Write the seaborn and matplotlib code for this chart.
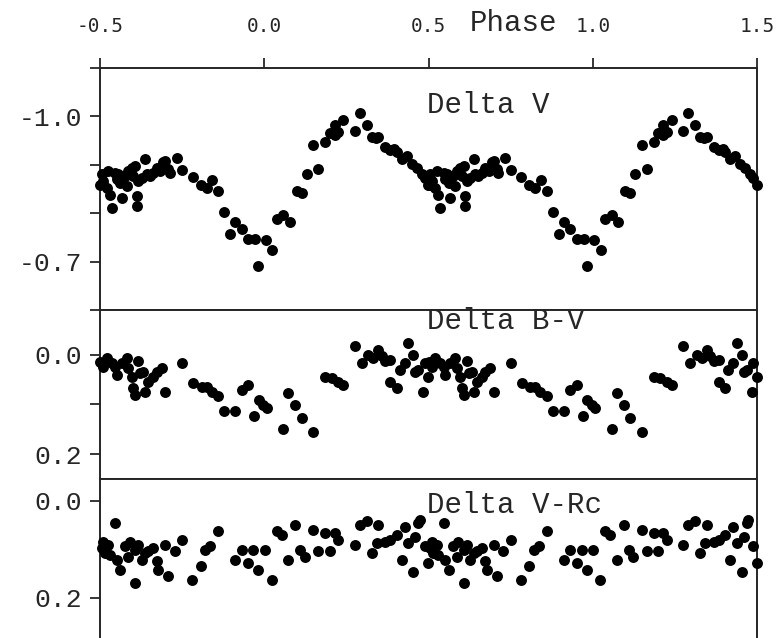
import numpy as np
import pandas as pd
import seaborn as sns
import matplotlib.pyplot as plt

# Folded light curve, one cycle of phase (-0.5 .. 0.5); plotted twice (phase and phase + 1)
phase_v = [-0.495, -0.490, -0.500, -0.480, -0.470, -0.464, -0.475, -0.454, -0.449, -0.444,
           -0.439, -0.434, -0.424, -0.419, -0.414, -0.404, -0.399, -0.393, -0.388, -0.388,
           -0.383, -0.373, -0.363, -0.358, -0.348, -0.338, -0.327, -0.317, -0.307, -0.302,
           -0.292, -0.287, -0.267, -0.249, -0.218, -0.193, -0.175, -0.158, -0.140, -0.122,
           -0.104, -0.089, -0.069, -0.048, -0.028, -0.018, 0.004, 0.025, 0.038, 0.058,
           0.078, 0.099, 0.114, 0.129, 0.165, 0.149, 0.185, 0.200, 0.215, 0.215,
           0.226, 0.241, 0.276, 0.291, 0.312, 0.327, 0.347, 0.340, 0.368, 0.383,
           0.395, 0.403, 0.418, 0.434, 0.449, 0.464, 0.479, 0.489, 0.499]
delta_v = [-0.880, -0.866, -0.859, -0.852, -0.838, -0.810, -0.887, -0.884, -0.870, -0.880,
           -0.863, -0.831, -0.877, -0.856, -0.887, -0.894, -0.877, -0.898, -0.835, -0.814,
           -0.866, -0.873, -0.912, -0.880, -0.877, -0.884, -0.894, -0.887, -0.905, -0.908,
           -0.891, -0.884, -0.915, -0.889, -0.875, -0.859, -0.852, -0.868, -0.845, -0.803,
           -0.758, -0.782, -0.768, -0.747, -0.747, -0.691, -0.744, -0.723, -0.789, -0.796,
           -0.782, -0.845, -0.842, -0.880, -0.891, -0.941, -0.947, -0.965, -0.982, -0.961,
           -0.968, -0.993, -0.969, -1.007, -0.982, -0.958, -0.958, -0.955, -0.937, -0.930,
           -0.933, -0.926, -0.912, -0.919, -0.901, -0.894, -0.880, -0.873, -0.859]

phase_bv = [-0.500, -0.490, -0.480, -0.464, -0.449, -0.454, -0.434, -0.419, -0.414, -0.404,
            -0.399, -0.393, -0.383, -0.378, -0.368, -0.363, -0.353, -0.338, -0.327, -0.312,
            -0.302, -0.249, -0.216, -0.191, -0.175, -0.160, -0.140, -0.122, -0.089, -0.069,
            -0.048, -0.030, -0.016, -0.003, 0.007, 0.058, 0.073, 0.094, 0.114, 0.149,
            0.185, 0.205, 0.226, 0.241, 0.276, 0.297, 0.317, 0.332, 0.347, 0.357,
            0.368, 0.383, 0.383, 0.403, 0.413, 0.428, 0.439, 0.454, 0.459, 0.469,
            0.484, 0.489, 0.499]
delta_bv = [0.014, 0.024, 0.007, 0.017, 0.040, 0.024, 0.017, 0.007, 0.027, 0.044,
            0.067, 0.081, 0.013, 0.037, 0.034, 0.074, 0.054, 0.044, 0.034, 0.027,
            0.074, 0.017, 0.057, 0.064, 0.064, 0.074, 0.084, 0.113, 0.113, 0.071,
            0.061, 0.123, 0.091, 0.101, 0.108, 0.150, 0.077, 0.101, 0.128, 0.155,
            0.044, 0.047, 0.054, 0.061, -0.017, 0.017, 0.000, 0.007, -0.010, 0.003,
            0.013, 0.010, 0.054, 0.067, 0.030, 0.017, -0.024, 0.000, 0.034, 0.030,
            0.074, 0.017, 0.044]

phase_vr = [-0.490, -0.495, -0.485, -0.475, -0.454, -0.470, -0.449, -0.439, -0.424, -0.414,
            -0.409, -0.393, -0.393, -0.383, -0.373, -0.363, -0.353, -0.338, -0.327, -0.322,
            -0.302, -0.292, -0.272, -0.249, -0.219, -0.193, -0.180, -0.165, -0.140, -0.089,
            -0.069, -0.048, -0.033, -0.018, 0.002, 0.023, 0.038, 0.053, 0.073, 0.094,
            0.109, 0.124, 0.149, 0.165, 0.185, 0.200, 0.215, 0.226, 0.276, 0.291,
            0.312, 0.327, 0.347, 0.342, 0.368, 0.383, 0.403, 0.418, 0.428, 0.439,
            0.454, 0.459, 0.469, 0.474, 0.489, 0.499]
delta_vr = [0.084, 0.098, 0.108, 0.091, 0.046, 0.111, 0.122, 0.142, 0.094, 0.115,
            0.084, 0.101, 0.170, 0.091, 0.122, 0.108, 0.104, 0.098, 0.125, 0.142,
            0.091, 0.156, 0.104, 0.080, 0.163, 0.135, 0.101, 0.094, 0.063, 0.122,
            0.101, 0.129, 0.101, 0.142, 0.101, 0.163, 0.063, 0.070, 0.122, 0.049,
            0.101, 0.115, 0.060, 0.104, 0.067, 0.104, 0.067, 0.080, 0.091, 0.049,
            0.042, 0.108, 0.049, 0.087, 0.084, 0.080, 0.070, 0.122, 0.053, 0.087,
            0.146, 0.074, 0.046, 0.039, 0.094, 0.129]

x_ticks = [-0.5, 0.0, 0.5, 1.0, 1.5]
x_labels = ["-0.5", "0.0", "0.5", "1.0", "1.5"]


def Folded(phase, values):
    # two cycles of the folded curve
    p = np.asarray(phase)
    v = np.asarray(values)
    return pd.DataFrame({"phase": np.concatenate([p, p + 1.0]),
                         "val": np.concatenate([v, v])})


sns.set_style("ticks")
plt.rcParams['font.family'] = ['Liberation Mono', 'DejaVu Sans Mono']
ink = '#262626'

W, H = 779, 638
fig = plt.figure(figsize=(W / 100, H / 100), dpi=100)


def Box(l, t, r, b):
    return [l / W, 1 - b / H, (r - l) / W, (b - t) / H]


ax1 = fig.add_axes(Box(100, 68, 757, 310))
ax2 = fig.add_axes(Box(100, 310, 757, 479))
ax3 = fig.add_axes(Box(100, 479, 757, 638))

panels = [
    (ax1, Folded(phase_v, delta_v), (-0.6, -1.1), [-1.1, -1.0, -0.9, -0.8, -0.7, -0.6],
     ['', '-1.0', '', '', '-0.7', ''], "Delta V", -1.024),
    (ax2, Folded(phase_bv, delta_bv), (0.25, -0.09), [0.0, 0.1, 0.2],
     ['0.0', '', '0.2'], "Delta B-V", -0.067),
    (ax3, Folded(phase_vr, delta_vr), (0.283, -0.045), [0.0, 0.2],
     ['0.0', '0.2'], "Delta V-Rc", 0.008),
]

for ax, df, ylim, yt, ytl, name, ty in panels:
    sns.scatterplot(data=df, x="phase", y="val", ax=ax, color='black', s=62,
                    linewidth=0, marker='o', clip_on=False, zorder=3)
    ax.set(xlabel='', ylabel='')
    ax.set_xlim(-0.5, 1.5)
    ax.set_ylim(*ylim)
    ax.set_yticks(yt)
    ax.set_yticklabels(ytl, fontsize=19, color=ink)
    ax.tick_params(axis='y', direction='out', length=7, width=1.3, pad=6, colors=ink)
    for s in ax.spines.values():
        s.set_linewidth(1.4)
        s.set_color(ink)
    ax.text(0.495, ty, name, fontsize=21, color=ink, ha='left', va='center')

# top phase axis only on the first panel
ax1.xaxis.tick_top()
ax1.set_xticks(x_ticks)
ax1.set_xticklabels(x_labels, fontsize=14, family='DejaVu Sans Mono', color=ink)
ax1.tick_params(axis='x', direction='out', length=7, width=1.3, pad=16, colors=ink)
for ax in (ax2, ax3):
    ax.set_xticks([])
ax3.spines['bottom'].set_visible(False)

fig.text(514 / W, 1 - 23 / H, "Phase", fontsize=21, color=ink, ha='center', va='center')

fig.savefig("out.png", dpi=100)
